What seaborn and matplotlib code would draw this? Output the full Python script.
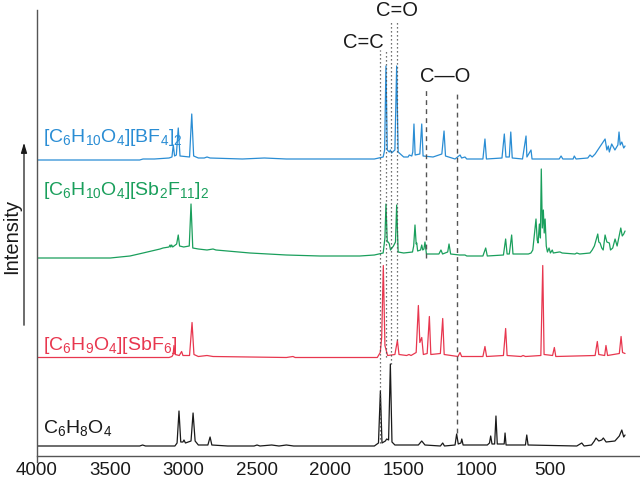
import matplotlib
matplotlib.use("Agg")
import matplotlib.pyplot as plt
import seaborn as sns

# Raman spectra, (wavenumber cm-1, intensity above own baseline)
black_pts = [(4000, 0), (3300, 0), (3280, 1), (3260, 0), (3060, 0), (3045, 3), (3032, 35), (3020, 4),
             (3005, 4), (2998, 6), (2988, 3), (2950, 5), (2936, 33), (2922, 5), (2900, 1), (2835, 1),
             (2820, 9), (2808, 1), (2700, 0), (2520, 0), (2500, 1), (2480, 0), (2400, 1), (2350, 0),
             (2300, 1), (2250, 0), (1700, 0), (1672, 3), (1659, 55), (1648, 3), (1625, 5), (1616, 7),
             (1603, 6), (1591, 82), (1580, 4), (1560, 1), (1400, 1), (1377, 5), (1355, 1), (1250, 0),
             (1234, 3), (1222, 0), (1150, 1), (1139, 12), (1128, 2), (1110, 3), (1104, 7), (1095, 1),
             (930, 1), (915, 3), (907, 10), (898, 2), (880, 2), (871, 30), (862, 2), (815, 2), (809, 13),
             (802, 1), (670, 1), (661, 11), (652, 1), (320, 0), (286, 3), (270, 0), (220, 1), (200, 5),
             (189, 8), (170, 5), (150, 6), (139, 8), (120, 4), (60, 5), (30, 10), (13, 16), (0, 9), (-9, 11)]

red_pts = [(4000, 0), (3100, 0), (3080, 1), (3072, 3), (3066, 12), (3058, 3), (3030, 2), (3014, 6),
           (3005, 2), (2960, 2), (2943, 35), (2930, 3), (2900, 1), (2841, 2), (2800, 1), (2300, 0),
           (2255, 1), (2240, 0), (1680, 0), (1660, 5), (1650, 20), (1639, 92), (1628, 12), (1610, 2),
           (1560, 3), (1543, 17), (1532, 3), (1480, 2), (1464, 3), (1450, 2), (1415, 5), (1400, 52),
           (1390, 15), (1377, 20), (1366, 3), (1340, 4), (1325, 41), (1315, 3), (1250, 4), (1234, 39),
           (1224, 3), (1130, 1), (1116, 5), (1105, 1), (960, 1), (946, 11), (935, 1), (820, 2), (805, 29),
           (795, 2), (700, 1), (686, 2), (670, 1), (565, 2), (552, 92), (543, 3), (485, 2), (473, 10),
           (463, 1), (195, 2), (180, 16), (170, 3), (130, 2), (121, 12), (110, 2), (30, 4), (18, 21),
           (8, 5), (-9, 4)]

green_pts = [(4000, 0), (3500, 0), (3434, 1), (3366, 2), (3277, 5), (3161, 9), (3141, 10), (3100, 11),
             (3093, 13), (3088, 11), (3082, 13), (3075, 11), (3066, 12), (3048, 14), (3037, 23), (3028, 12),
             (3000, 11), (2962, 12), (2950, 54), (2938, 10), (2900, 9), (2841, 8), (2800, 9), (2780, 8),
             (2548, 5), (2300, 3), (2071, 2), (1800, 2), (1700, 3), (1640, 5), (1628, 20), (1621, 54),
             (1612, 16), (1605, 16), (1598, 14), (1590, 8), (1570, 12), (1556, 16), (1548, 53), (1538, 6),
             (1500, 5), (1440, 6), (1432, 12), (1423, 33), (1415, 14), (1411, 15), (1405, 7), (1385, 8),
             (1377, 13), (1370, 8), (1362, 9), (1355, 16), (1345, 4), (1300, 4), (1260, 4), (1246, 8),
             (1235, 4), (1200, 6), (1191, 14), (1180, 4), (1120, 3), (1082, 3), (1070, 2), (960, 2),
             (941, 10), (930, 2), (820, 3), (805, 19), (795, 4), (780, 4), (764, 23), (755, 4), (650, 4),
             (632, 5), (620, 8), (598, 39), (590, 18), (584, 15), (575, 34), (568, 20), (562, 89), (555, 30),
             (548, 48), (542, 25), (536, 39), (528, 12), (520, 6), (509, 10), (500, 5), (487, 8), (480, 5),
             (440, 6), (434, 6), (420, 5), (332, 4), (320, 5), (300, 4), (230, 5), (215, 8), (200, 12),
             (177, 24), (170, 16), (161, 15), (150, 10), (140, 8), (127, 23), (115, 16), (98, 15), (90, 8),
             (75, 10), (59, 19), (45, 12), (20, 30), (10, 22), (0, 24), (-9, 27)]

blue_pts = [(4000, 0), (3300, 0), (3277, 1), (3200, 1), (3100, 2), (3080, 3), (3071, 15), (3062, 4),
            (3050, 5), (3037, 32), (3025, 4), (2960, 3), (2945, 46), (2932, 4), (2900, 2), (2860, 2),
            (2841, 3), (2820, 2), (2600, 1), (2450, 2), (2300, 1), (1700, 1), (1640, 3), (1630, 10),
            (1621, 94), (1612, 10), (1598, 8), (1591, 10), (1583, 7), (1560, 10), (1548, 94), (1538, 8),
            (1500, 3), (1470, 3), (1462, 5), (1445, 4), (1438, 8), (1430, 36), (1422, 5), (1390, 6),
            (1377, 36), (1368, 4), (1300, 3), (1240, 6), (1225, 29), (1215, 4), (1150, 1), (1116, 5),
            (1105, 2), (1082, 3), (1070, 1), (960, 1), (946, 21), (936, 1), (830, 2), (814, 26), (803, 3),
            (780, 3), (770, 28), (760, 2), (690, 1), (666, 24), (660, 3), (632, 10), (625, 1), (440, 1),
            (427, 4), (415, 1), (345, 1), (337, 4), (325, 1), (245, 2), (230, 5), (215, 3), (195, 6),
            (127, 21), (115, 10), (105, 14), (98, 8), (82, 16), (60, 10), (40, 15), (32, 28), (24, 15),
            (13, 18), (0, 12), (-9, 14)]

names = ["C$_6$H$_8$O$_4$",
         "[C$_6$H$_9$O$_4$][SbF$_6$]",
         "[C$_6$H$_{10}$O$_4$][Sb$_2$F$_{11}$]$_2$",
         "[C$_6$H$_{10}$O$_4$][BF$_4$]$_2$"]
spectra = [black_pts, red_pts, green_pts, blue_pts]
offsets = [16, 104.5, 204, 302]
colors = ["#1a1a1a", "#e8374f", "#1a9f5c", "#2a8dd4"]
label_y = [29, 112, 267, 320]

# marker lines: C=C / C=O dotted, C-O dashed
dotted_x = [1661, 1621, 1586, 1546]
dotted_top = [412, 412, 440, 440]
dotted_bot = [19, 105, 98, 122]
dashed_x = [1348, 1136]
dashed_top = [375, 372]
dashed_bot = [204, 29]

sns.set_theme(style="white")
plt.rcParams["font.family"] = ["Liberation Sans", "DejaVu Sans"]
plt.rcParams["mathtext.default"] = "regular"

fig = plt.figure(figsize=(6.4, 4.8), dpi=100)
ax = fig.add_axes([37 / 640, 18 / 480, 603 / 640, 452 / 480])

for pts, off, col in zip(spectra, offsets, colors):
    wn = [p[0] for p in pts]
    inten = [p[1] + off for p in pts]
    sns.lineplot(x=wn, y=inten, sort=False, estimator=None, color=col, lw=0.9, ax=ax)

for name, y, col in zip(names, label_y, colors):
    ax.text(3959, y, name, color=col, fontsize=14, va="baseline", ha="left")

for x, t, b in zip(dotted_x, dotted_top, dotted_bot):
    ax.plot([x, x], [b, t], color="#444444", lw=0.9, ls=(0, (1, 2.2)))
for x, t, b in zip(dashed_x, dashed_top, dashed_bot):
    ax.plot([x, x], [b, t], color="#555555", lw=1.0, ls=(0, (3.5, 3)))

ax.text(1777, 419, "C=C", fontsize=14.5, ha="center", va="center", color="#1a1a1a")
ax.text(1546, 452, "C=O", fontsize=14.5, ha="center", va="center", color="#1a1a1a")
ax.text(1218, 386, "C\u2014O", fontsize=14.5, ha="center", va="center", color="#1a1a1a")

ax.set_xlim(4000, -111)
ax.set_ylim(0, 452)
ax.set_xticks([4000, 3500, 3000, 2500, 2000, 1500, 1000, 500])
ax.set_yticks([])
ax.tick_params(axis="x", length=0, pad=4, labelsize=13.5, colors="#1a1a1a")
for s in ["top", "right"]:
    ax.spines[s].set_visible(False)
ax.spines["bottom"].set_position(("data", 6))
for s in ["left", "bottom"]:
    ax.spines[s].set_color("#555555")
    ax.spines[s].set_linewidth(1.0)
ax.set_xlabel("")
ax.set_ylabel("")

fig.text(12 / 640, 1 - 236 / 480, "Intensity", rotation=90, ha="center", va="center",
         fontsize=14.5, color="#1a1a1a")
ax.annotate("", xy=(24 / 640, 1 - 140 / 480), xytext=(24 / 640, 1 - 328 / 480),
            xycoords="figure fraction", textcoords="figure fraction",
            arrowprops=dict(arrowstyle="-|>,head_length=0.5,head_width=0.15", color="#1a1a1a", lw=0.9))

fig.savefig("out.png", dpi=100)
